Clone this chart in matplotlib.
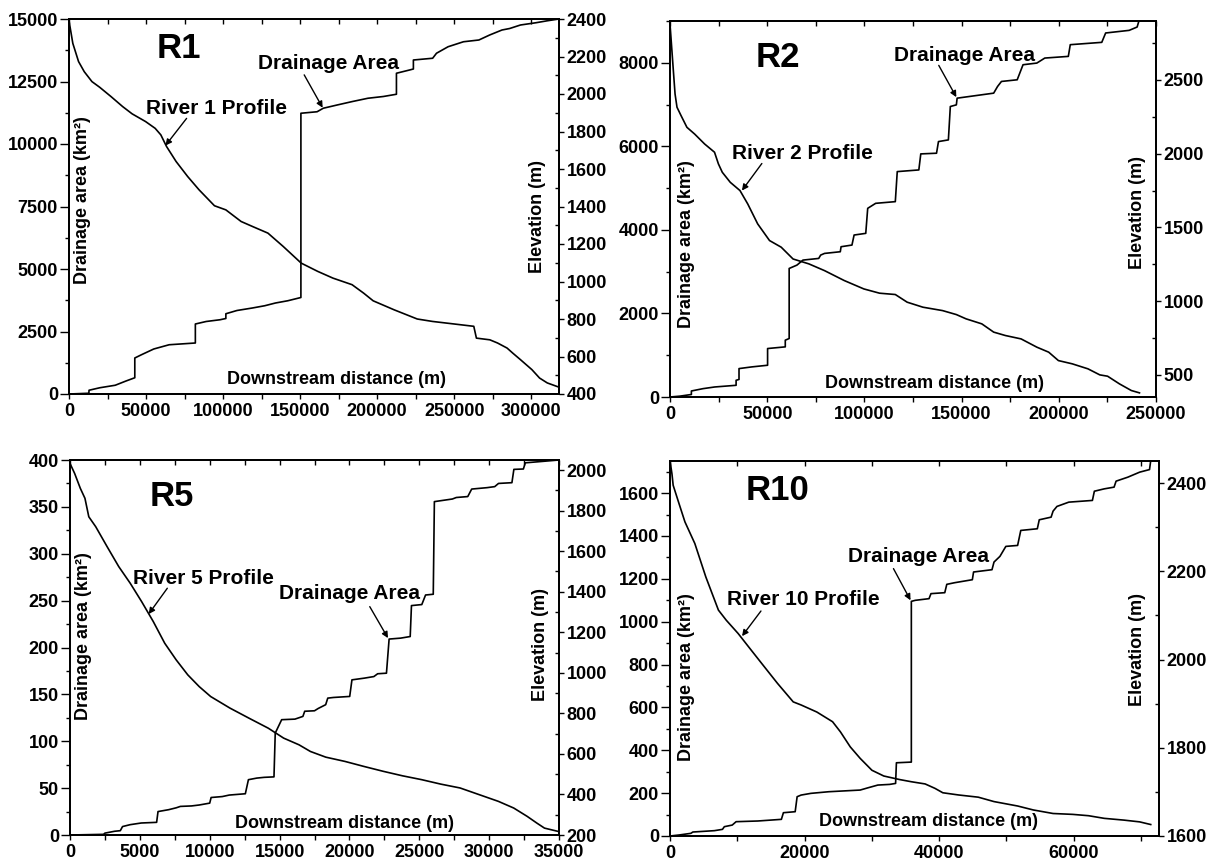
import matplotlib
matplotlib.use('Agg')
import matplotlib.pyplot as plt
from matplotlib.ticker import MultipleLocator, StrMethodFormatter

plt.rcParams['font.family'] = ['Liberation Sans', 'DejaVu Sans']
plt.rcParams['font.weight'] = 'bold'

# drainage area curves: a repeated distance marks a vertical jump (tributary junction)

# ---------------- River 1 ----------------
r1_area_x = [0, 12900, 13000, 20000, 30000, 37000, 42700, 42700, 47000, 55000, 65000, 82000, 82000,
             89000, 98000, 101800, 101800, 109000, 119000, 127000, 134000, 142000, 150500, 150500,
             161000, 165000, 174000, 184000, 194000, 204000, 212500, 212500, 221000, 223500, 223500,
             236000, 238500, 246000, 256000, 266000, 273000, 281000, 286000, 293000, 303000, 310500,
             318000]
r1_area = [0, 30, 150, 250, 350, 520, 650, 1440, 1570, 1800, 1970, 2040, 2800, 2900, 2970, 3020, 3210,
           3340, 3440, 3530, 3640, 3730, 3860, 11230, 11290, 11430, 11560, 11700, 11830, 11900, 11990,
           12830, 12960, 13000, 13360, 13430, 13630, 13890, 14090, 14160, 14360, 14560, 14620, 14760,
           14850, 14930, 15000]
r1_prof_x = [0, 2480, 6200, 9900, 14900, 19900, 27300, 34800, 41000, 49700, 55900, 59600, 63300,
             69500, 77000, 84400, 94400, 101800, 111700, 119200, 129100, 139000, 150700, 161400,
             171300, 183700, 191200, 197400, 211000, 226000, 235900, 248300, 262700, 264400, 273100,
             278100, 284300, 288000, 293000, 300400, 305400, 310400, 317800]
r1_elev = [2391, 2270, 2173, 2119, 2066, 2036, 1986, 1933, 1894, 1853, 1817, 1782, 1720, 1640, 1560,
           1489, 1404, 1382, 1320, 1293, 1258, 1187, 1098, 1054, 1018, 983, 938, 897, 849, 800, 787,
           775, 761, 698, 689, 672, 645, 618, 583, 530, 485, 459, 437]

# ---------------- River 2 ----------------
r2_area_x = [0, 5000, 11000, 11000, 17000, 23000, 34000, 34000, 35500, 35500, 42000, 50200, 50200,
             59300, 59300, 61300, 61300, 65300, 68400, 76500, 77500, 79500, 87600, 88000, 93600,
             94700, 100700, 101700, 105800, 115900, 116900, 128000, 129000, 137100, 138100, 143200,
             144200, 147300, 147700, 166500, 168500, 170500, 178600, 181600, 188700, 192800, 204900,
             205900, 222100, 224100, 236200, 240300, 241300]
r2_area = [0, 20, 60, 144, 200, 240, 280, 400, 420, 680, 720, 760, 1160, 1200, 1360, 1400, 3077, 3157,
           3277, 3317, 3397, 3437, 3477, 3597, 3637, 3877, 3917, 4516, 4636, 4676, 5395, 5435, 5819,
           5835, 6114, 6154, 6953, 6993, 7153, 7273, 7433, 7553, 7593, 7953, 7993, 8113, 8153, 8433,
           8489, 8713, 8776, 8856, 9016]
r2_prof_x = [0, 1600, 2600, 3600, 5700, 8700, 12700, 17800, 22900, 24900, 26900, 31000, 36000, 40000,
             45100, 51200, 57200, 63300, 71400, 79500, 89600, 99700, 107800, 115900, 122000, 130100,
             140200, 147300, 152300, 160400, 166500, 172500, 180600, 188700, 194800, 199800, 206900,
             215000, 221100, 225100, 231200, 237300, 241500]
r2_elev = [2880, 2586, 2405, 2315, 2258, 2179, 2133, 2066, 2010, 1931, 1874, 1806, 1750, 1659, 1524,
           1411, 1366, 1286, 1253, 1207, 1140, 1083, 1054, 1045, 993, 959, 936, 909, 880, 846, 790,
           767, 744, 688, 654, 597, 575, 541, 500, 491, 439, 394, 378]

# ---------------- River 5 ----------------
r5_area_x = [0, 2400, 2500, 3200, 3600, 3760, 4300, 5100, 6200, 6300, 7060, 7600, 7900, 8700, 9250,
             10000, 10100, 10900, 11400, 12550, 12770, 13370, 13900, 14600, 14690, 15150, 16100,
             16670, 16800, 17500, 17770, 18300, 18450, 18860, 20020, 20180, 21060, 21750, 22020,
             22650, 22840, 23670, 24350, 24440, 25180, 25450, 26000, 26080, 27370, 27650, 28470,
             28750, 29850, 30400, 30670, 31630, 31770, 32450, 32590, 33410, 35000]
r5_area = [0, 0.7, 2, 4, 4.6, 9, 11, 12.8, 13.5, 25, 27, 29, 30.5, 31, 32, 34, 40, 41, 42.6, 44, 59,
           60.7, 61.5, 62, 108.7, 123, 123.6, 126.5, 132, 132.5, 135, 139, 146, 146.7, 147.8, 165.5,
           167.3, 169, 172, 172.6, 209, 210, 211.7, 244.7, 245.8, 256, 256.8, 355.6, 358.4, 360, 361,
           369, 370.5, 371.6, 375, 375.8, 390, 390.4, 397, 398, 400]
r5_prof_x = [0, 330, 740, 1070, 1345, 1840, 2660, 3490, 4310, 5130, 5960, 6780, 7600, 8430, 9250,
             10070, 11450, 12820, 14190, 15290, 16390, 17210, 18310, 19680, 21050, 22430, 23800,
             25170, 26540, 27920, 29290, 30660, 31760, 32720, 33410, 33960, 34920]
r5_elev = [2033, 1984, 1910, 1861, 1770, 1721, 1622, 1524, 1442, 1351, 1253, 1146, 1064, 990, 932,
           883, 826, 776, 727, 678, 645, 612, 584, 563, 538, 514, 492, 473, 451, 432, 399, 366, 333,
           292, 259, 234, 218]

# ---------------- River 10 ----------------
r10_area_x = [0, 1350, 3100, 3400, 6600, 7800, 8080, 9250, 9830, 13050, 16560, 16860, 18610, 18900,
              19490, 20950, 23590, 28270, 29440, 30900, 32660, 33540, 33660, 35880, 35880, 36460,
              38510, 38800, 40850, 41150, 42310, 44950, 45130, 47870, 48170, 49050, 49930, 51680,
              52150, 54610, 54900, 56660, 56950, 57530, 59290, 62800, 63090, 64560, 66020, 66320,
              68070, 69830, 71290, 71470]
r10_area = [0, 4.7, 12.4, 18.6, 24.9, 31, 43.5, 51, 66.8, 70, 77.7, 108.7, 113.4, 183.3, 191, 199,
            206.6, 214.4, 225, 237.7, 240.8, 245.4, 341.7, 344.9, 1095, 1099.8, 1107.6, 1131, 1135.5,
            1174.4, 1182, 1196, 1232, 1242.7, 1278.4, 1304.9, 1351.5, 1356, 1426, 1433.8, 1475.7,
            1488, 1516, 1538, 1558, 1566, 1609, 1620, 1628, 1656, 1674.6, 1698, 1710, 1752]
r10_prof_x = [0, 290, 470, 1350, 2220, 3690, 5330, 7200, 8370, 10130, 11880, 13640, 15980, 18320,
              19490, 21830, 24170, 25340, 26800, 28270, 30020, 31780, 34120, 35880, 37930, 39390,
              40560, 42900, 45830, 48170, 51680, 54020, 56950, 59880, 62220, 64560, 67490, 69830,
              71470]
r10_elev = [2451, 2421, 2395, 2353, 2312, 2263, 2187, 2112, 2089, 2059, 2025, 1991, 1946, 1904, 1897,
            1881, 1859, 1836, 1802, 1776, 1749, 1736, 1728, 1723, 1718, 1708, 1698, 1693, 1688, 1678,
            1668, 1659, 1651, 1649, 1646, 1640, 1636, 1632, 1626]


fig = plt.figure(figsize=(12.17, 8.61), dpi=100)


def draw_panel(rect, name, area_x, area, prof_x, elev, xlim, ylim, zlim, xstep, ystep, zstep,
               name_pos, prof_lbl, prof_start, prof_tip, area_lbl, area_start, area_tip,
               ylab_pos, zlab_pos, xlab_pos):
    ax = fig.add_axes(rect)
    ax.plot(area_x, area, color='k', lw=1.2)
    ax.set_xlim(*xlim)
    ax.set_ylim(*ylim)

    ax2 = ax.twinx()
    ax2.plot(prof_x, elev, color='k', lw=1.2)
    ax2.set_ylim(*zlim)

    # locators
    ax.xaxis.set_major_locator(MultipleLocator(xstep))
    ax.xaxis.set_minor_locator(MultipleLocator(xstep / 2))
    ax.yaxis.set_major_locator(MultipleLocator(ystep))
    ax.yaxis.set_minor_locator(MultipleLocator(ystep / 2))
    ax2.yaxis.set_major_locator(MultipleLocator(zstep))
    ax2.yaxis.set_minor_locator(MultipleLocator(zstep / 2))
    for a in (ax.xaxis, ax.yaxis, ax2.yaxis):
        a.set_major_formatter(StrMethodFormatter('{x:.0f}'))

    # tick styles
    ax.tick_params(axis='y', which='major', direction='out', length=6.5, width=1, pad=1.5, labelsize=13)
    ax.tick_params(axis='y', which='minor', direction='out', length=3, width=1)
    ax.tick_params(axis='x', which='both', direction='out', length=3.8, width=1, pad=3, labelsize=13)
    ax2.tick_params(axis='y', which='major', direction='out', length=3.5, width=1, pad=2, labelsize=13)
    ax2.tick_params(axis='y', which='minor', direction='in', length=3, width=1)
    # top ticks pointing in
    ax2.xaxis.set_visible(True)
    ax2.tick_params(axis='x', which='both', direction='in', bottom=False, top=True,
                    labelbottom=False, labeltop=False, length=3.5, width=1)
    for a in (ax, ax2):
        for sp in a.spines.values():
            sp.set_linewidth(1.3)

    # text inside the frame
    ax.text(name_pos[0], name_pos[1], name, transform=ax.transAxes, fontsize=25,
            fontweight='bold', ha='center', va='center')
    ax.text(ylab_pos[0], ylab_pos[1], 'Drainage area (km²)', transform=ax.transAxes,
            fontsize=13, rotation=90, ha='center', va='center')
    ax.text(zlab_pos[0], zlab_pos[1], 'Elevation (m)', transform=ax.transAxes,
            fontsize=13, rotation=90, ha='center', va='center')
    ax.text(xlab_pos[0], xlab_pos[1], 'Downstream distance (m)', transform=ax.transAxes,
            fontsize=13, ha='center', va='center')

    arrow = dict(arrowstyle='-|>', color='k', lw=1.0, mutation_scale=9, shrinkA=0, shrinkB=0)
    ax2.text(prof_lbl[0], prof_lbl[1], prof_lbl[2], transform=ax.transAxes, fontsize=15,
             ha='center', va='center')
    ax2.annotate('', xy=prof_tip, xycoords='data', xytext=prof_start,
                 textcoords='axes fraction', arrowprops=arrow)
    ax2.text(area_lbl[0], area_lbl[1], 'Drainage Area', transform=ax.transAxes, fontsize=15,
             ha='center', va='center')
    ax.annotate('', xy=area_tip, xycoords='data', xytext=area_start,
                textcoords='axes fraction', arrowprops=arrow)
    return ax, ax2


W, H = 1217.0, 861.0

draw_panel([69 / W, (H - 394) / H, 490 / W, 375 / H], 'R1',
           r1_area_x, r1_area, r1_prof_x, r1_elev,
           (0, 318000), (0, 15000), (400, 2400), 50000, 2500, 200,
           (0.225, 0.922), (0.30, 0.762, 'River 1 Profile'), (0.240, 0.735), (62600, 1725),
           (0.530, 0.882), (0.480, 0.851), (164600, 11450),
           (0.027, 0.517), (0.957, 0.473), (0.545, 0.038))

draw_panel([670 / W, (H - 397) / H, 486 / W, 376 / H], 'R2',
           r2_area_x, r2_area, r2_prof_x, r2_elev,
           (0, 250000), (0, 9000), (350, 2900), 50000, 2000, 500,
           (0.221, 0.904), (0.273, 0.647, 'River 2 Profile'), (0.189, 0.621), (37000, 1750),
           (0.605, 0.909), (0.553, 0.882), (147300, 7177),
           (0.033, 0.408), (0.961, 0.490), (0.545, 0.037))

draw_panel([70 / W, (H - 835) / H, 489 / W, 375 / H], 'R5',
           r5_area_x, r5_area, r5_prof_x, r5_elev,
           (0, 35000), (0, 400), (200, 2050), 5000, 50, 200,
           (0.208, 0.904), (0.272, 0.685, 'River 5 Profile'), (0.199, 0.658), (5630, 1290),
           (0.572, 0.643), (0.613, 0.609), (22760, 210),
           (0.027, 0.531), (0.962, 0.507), (0.562, 0.032))

draw_panel([670 / W, (H - 836) / H, 489 / W, 375 / H], 'R10',
           r10_area_x, r10_area, r10_prof_x, r10_elev,
           (0, 72700), (0, 1750), (1600, 2450), 20000, 200, 200,
           (0.220, 0.922), (0.272, 0.631, 'River 10 Profile'), (0.186, 0.600), (10710, 2053),
           (0.508, 0.744), (0.457, 0.713), (35760, 1100),
           (0.033, 0.424), (0.956, 0.496), (0.528, 0.038))

fig.savefig('out.png', dpi=100)
